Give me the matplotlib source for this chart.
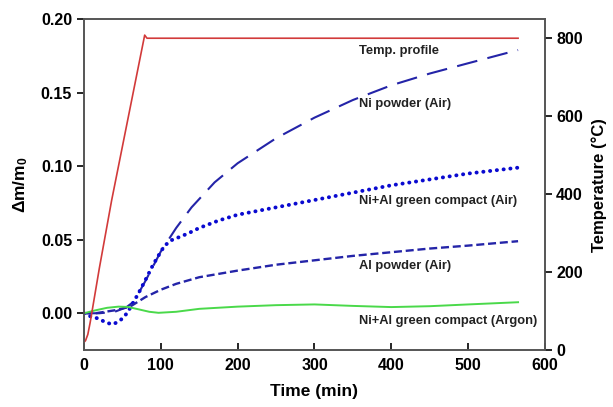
import numpy as np
import matplotlib.pyplot as plt

plt.rcParams['font.family'] = ['Liberation Sans', 'DejaVu Sans']
plt.rcParams['font.weight'] = 'bold'
plt.rcParams['mathtext.fontset'] = 'custom'
plt.rcParams['mathtext.rm'] = 'Liberation Sans:bold'
plt.rcParams['mathtext.it'] = 'Liberation Sans:bold'
plt.rcParams['mathtext.bf'] = 'Liberation Sans:bold'

# temperature profile (right axis)
t_temp = [0, 2, 5, 8, 20, 36, 79, 82, 100, 200, 300, 400, 500, 565]
temp = [20, 24, 40, 70, 210, 384, 808, 800, 800, 800, 800, 800, 800, 800]

# Ni powder (Air)
t_ni = [0, 20, 40, 55, 65, 80, 100, 120, 140, 170, 200, 250, 300, 350, 400, 450, 500, 565]
dm_ni = [0, 0.0, 0.001, 0.004, 0.008, 0.022, 0.042, 0.058, 0.072, 0.089, 0.102,
         0.119, 0.133, 0.145, 0.155, 0.163, 0.170, 0.179]

# Ni+Al green compact (Air)
t_nial = [0, 10, 19, 29, 38, 47, 56, 66, 73, 82, 90, 99, 105, 114, 125, 136, 150,
          175, 200, 250, 300, 350, 400, 450, 500, 565]
dm_nial = [0, -0.0025, -0.0036, -0.0065, -0.0075, -0.005, 0.0, 0.009, 0.0156, 0.0247,
           0.033, 0.041, 0.046, 0.0497, 0.052, 0.0544, 0.058, 0.063, 0.067, 0.072,
           0.077, 0.082, 0.087, 0.091, 0.095, 0.099]

# Al powder (Air)
t_al = [0, 15, 40, 60, 80, 100, 120, 150, 200, 250, 300, 350, 400, 450, 500, 565]
dm_al = [0, 0.0, 0.002, 0.0045, 0.011, 0.016, 0.020, 0.0245, 0.029, 0.033, 0.036,
         0.039, 0.0415, 0.044, 0.046, 0.049]

# Ni+Al green compact (Argon)
t_ar = [0, 15, 30, 45, 57, 70, 85, 97, 120, 150, 200, 250, 300, 350, 400, 450, 500, 565]
dm_ar = [0, 0.002, 0.0037, 0.0045, 0.0043, 0.0028, 0.001, 0.0003, 0.001, 0.003,
         0.0045, 0.0055, 0.006, 0.005, 0.0042, 0.0048, 0.006, 0.0075]

labels = ['Temp. profile', 'Ni powder (Air)', 'Ni+Al green compact (Air)',
          'Al powder (Air)', 'Ni+Al green compact (Argon)']
label_y = [0.178, 0.142, 0.076, 0.032, -0.0054]

fig = plt.figure(figsize=(6.13, 4.07), dpi=100)
ax = fig.add_axes([0.137, 0.140, 0.752, 0.813])
ax2 = ax.twinx()

blue = '#2424a8'
ax.plot(t_ni, dm_ni, color=blue, lw=1.5, dashes=(10, 5))
ax.plot(t_nial, dm_nial, color='#0a0ad0', lw=2.8, dashes=(0.05, 1.7),
        dash_capstyle='round')
ax.plot(t_al, dm_al, color=blue, lw=1.7, dashes=(3.4, 1.6))
ax.plot(t_ar, dm_ar, color='#4ad94a', lw=1.4)
ax2.plot(t_temp, temp, color='#d23a3a', lw=1.2)

for lab, y in zip(labels, label_y):
    ax.text(358, y, lab, fontsize=9.3, fontweight='bold', va='center', ha='left',
            color='#222222')

ax.set_xlim(0, 600)
ax.set_ylim(-0.025, 0.20)
ax2.set_ylim(0, 849)
ax.set_xticks(np.arange(0, 601, 100))
ax.set_yticks(np.arange(0, 0.201, 0.05))
ax.set_yticklabels(['%.2f' % v for v in np.arange(0, 0.201, 0.05)])
ax2.set_yticks(np.arange(0, 801, 200))

ax.tick_params(axis='x', direction='in', length=5, width=1.2, labelsize=11.5, pad=6)
ax.tick_params(axis='y', direction='out', length=5, width=1.2, labelsize=11.5)
ax2.tick_params(axis='y', direction='out', length=5, width=1.2, labelsize=11.5, pad=3)

for a in (ax, ax2):
    for s in a.spines.values():
        s.set_color('#555555')
        s.set_linewidth(1.2)

ax.set_xlabel('Time (min)', fontsize=12.5, fontweight='bold', labelpad=8)
ax.set_ylabel(r'$\Delta m/m_0$', fontsize=12.5, labelpad=8)
ax2.set_ylabel('Temperature (°C)', fontsize=12, fontweight='bold', labelpad=6)

fig.savefig('out.png', dpi=100)
